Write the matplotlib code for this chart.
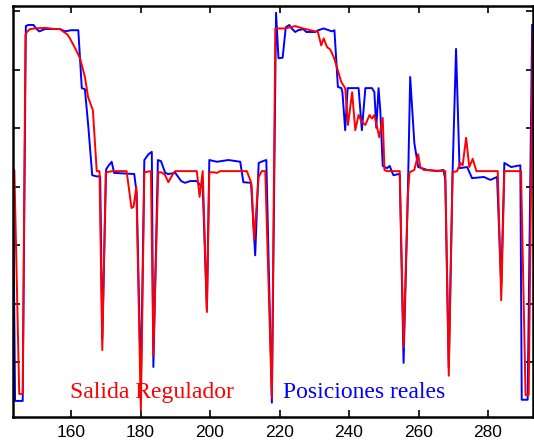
import numpy as np
import matplotlib
matplotlib.use("Agg")
import matplotlib.pyplot as plt

# Salida Regulador (red)
red_x = [143.3, 143.7, 145.1, 146.1, 146.9, 147.3, 148.2, 149.6, 152.5, 155.4,
         156.8, 157.7, 158.9, 159.7, 161.45, 162.6, 164.0, 164.9, 166.3, 167.4,
         168.2, 169.0, 170.0, 172.0, 176.0, 177.4, 178.0, 178.8, 180.1, 181.1,
         183.0, 183.7, 185.1, 186.0, 187.1, 188.0, 189.5, 190.0, 196.2, 197.0,
         197.9, 199.1, 199.8, 201.0, 202.0, 202.9, 210.6, 211.8, 212.0, 212.7,
         214.0, 214.9, 215.9, 217.8, 218.8, 221.6, 224.5, 226.8, 230.3, 231.0,
         232.0, 232.7, 233.7, 234.6, 235.6, 236.5, 237.8, 238.9, 239.7, 240.9,
         241.8, 242.75, 243.7, 244.7, 245.9, 246.6, 247.3, 248.7, 249.7, 250.2,
         250.9, 254.6, 255.7, 256.9, 257.4, 258.8, 259.9, 260.5, 261.5, 267.7,
         268.7, 269.8, 271.1, 272.0, 272.7, 273.7, 274.6, 275.6, 276.65, 282.8,
         283.8, 284.7, 289.5, 290.8, 291.7, 292.9]
red_y = [4.29, 4.29, 0.46, 0.46, 6.60, 6.65, 6.70, 6.71, 6.72, 6.70,
         6.70, 6.66, 6.61, 6.54, 6.34, 6.20, 5.88, 5.54, 5.31, 4.27,
         4.27, 1.21, 4.25, 4.27, 4.27, 3.64, 3.66, 4.00, 0.18, 4.25,
         4.27, 1.12, 4.25, 4.25, 4.20, 4.08, 4.24, 4.27, 4.27, 3.83,
         4.27, 1.86, 4.25, 4.25, 4.24, 4.27, 4.27, 4.08, 4.00, 3.09,
         4.17, 4.27, 4.27, 0.39, 6.71, 6.71, 6.75, 6.71, 6.66, 6.66,
         6.42, 6.54, 6.39, 6.35, 6.22, 6.05, 5.79, 5.69, 5.06, 5.62,
         4.97, 5.23, 5.11, 5.06, 5.23, 5.17, 5.23, 4.85, 5.18, 4.29,
         4.27, 4.27, 1.26, 3.83, 4.25, 4.29, 4.56, 4.34, 4.29, 4.27,
         0.77, 4.25, 4.27, 4.41, 4.37, 4.84, 4.34, 4.48, 4.27, 4.27,
         2.06, 4.27, 4.27, 0.44, 0.44, 6.65]

# Posiciones reales (blue)
blue_x = [143.3, 143.9, 146.1, 147.0, 147.7, 149.2, 150.1, 150.9, 152.5, 156.8,
          158.3, 160.0, 162.1, 163.1, 164.0, 165.0, 166.1, 167.4, 168.4, 169.0,
          170.1, 170.75, 171.7, 172.4, 178.2, 178.9, 180.1, 181.1, 182.3, 183.25,
          183.7, 185.0, 185.9, 187.1, 188.0, 190.0, 191.7, 192.8, 194.3, 196.2,
          197.2, 197.9, 199.1, 199.8, 202.0, 205.3, 208.7, 209.6, 211.8, 213.0,
          214.0, 215.2, 216.2, 217.8, 219.0, 219.7, 220.9, 221.8, 222.8, 223.5,
          224.5, 225.4, 226.8, 227.7, 230.3, 231.2, 232.7, 235.1, 235.8, 236.8,
          237.8, 238.1, 238.9, 239.6, 242.75, 243.7, 244.7, 246.6, 247.3, 247.85,
          248.5, 249.0, 249.7, 250.9, 251.7, 252.4, 252.8, 254.3, 254.6, 255.7,
          256.9, 257.6, 258.8, 259.9, 261.0, 262.5, 265.3, 267.2, 267.7, 268.7,
          269.8, 270.8, 271.8, 274.0, 275.4, 278.8, 280.7, 282.6, 283.8, 284.7,
          286.65, 289.3, 289.7, 291.4, 292.7]
blue_y = [4.32, 0.34, 0.34, 6.75, 6.77, 6.77, 6.70, 6.66, 6.70, 6.70,
          6.66, 6.68, 6.68, 5.69, 5.67, 5.02, 4.20, 4.18, 4.18, 1.40,
          4.30, 4.36, 4.43, 4.24, 4.22, 3.89, 0.60, 4.46, 4.56, 4.60,
          0.92, 4.46, 4.44, 4.24, 4.22, 4.24, 4.10, 4.07, 4.10, 4.10,
          4.03, 4.00, 1.90, 4.46, 4.43, 4.46, 4.43, 4.08, 4.07, 2.83,
          4.41, 4.44, 4.46, 0.31, 6.98, 6.20, 6.21, 6.73, 6.77, 6.71,
          6.65, 6.68, 6.70, 6.65, 6.65, 6.68, 6.71, 6.66, 6.68, 5.71,
          5.69, 5.62, 4.97, 5.69, 5.69, 4.97, 5.69, 5.69, 5.62, 5.01,
          5.69, 5.31, 4.36, 4.32, 4.36, 4.25, 4.20, 4.22, 4.20, 0.99,
          3.80, 5.88, 4.75, 4.34, 4.32, 4.29, 4.27, 4.29, 4.12, 0.90,
          4.25, 6.36, 4.32, 4.34, 4.15, 4.17, 4.12, 4.17, 2.30, 4.41,
          4.34, 4.37, 0.36, 0.36, 6.77]

xticks = [160, 180, 200, 220, 240, 260, 280]
yticks = [1, 2, 3, 4, 5, 6, 7]

fig = plt.figure(figsize=(5.34, 4.48), dpi=100)
ax = fig.add_axes([0.0243, 0.0692, 0.9729, 0.9174])

ax.plot(blue_x, blue_y, color="#0000ff", lw=1.4)
ax.plot(red_x, red_y, color="#ff0000", lw=1.4)

ax.text(159.7, 0.39, "Salida Regulador", color="#ff0000",
        family="Liberation Serif", fontsize=17)
ax.text(221.0, 0.39, "Posiciones reales", color="#0000ff",
        family="Liberation Serif", fontsize=17)

ax.set_xlim(143.3, 292.8)
ax.set_ylim(0.065, 7.094)
ax.set_xticks(xticks)
ax.set_yticks(yticks)
ax.set_yticklabels([])
ax.tick_params(direction="in", length=5, width=1.2, top=True, right=True,
               labelsize=12.5, pad=6)
for lab in ax.get_xticklabels():
    lab.set_family("Liberation Sans")
for s in ax.spines.values():
    s.set_linewidth(1.8)

fig.savefig("out.png", dpi=100)
